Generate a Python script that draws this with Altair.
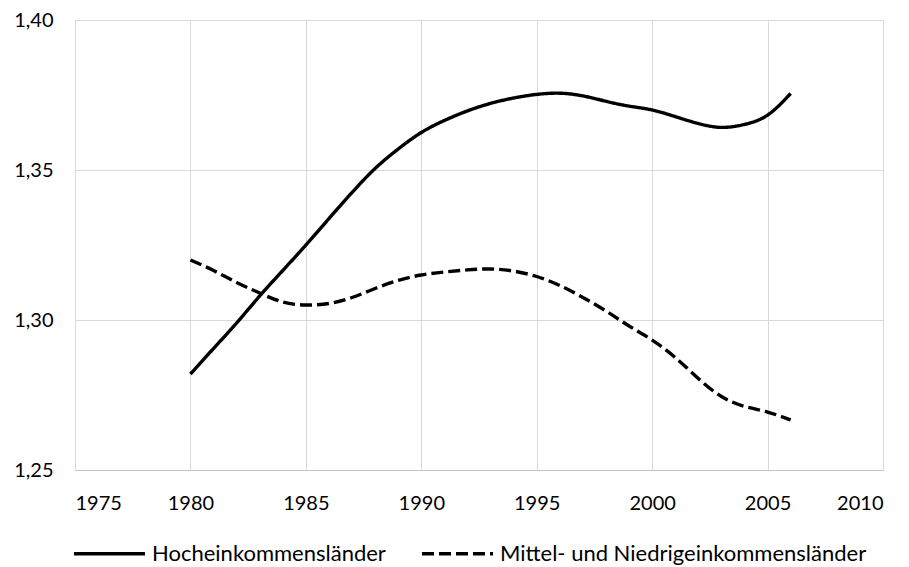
import altair as alt
import pandas as pd

years = list(range(1980, 2007))
hoch = [1.282, 1.2905, 1.299, 1.308, 1.3165, 1.325, 1.3338, 1.3425, 1.3505, 1.357,
        1.3625, 1.3665, 1.3697, 1.3722, 1.374, 1.3752, 1.3756, 1.3747, 1.3729, 1.3713,
        1.370, 1.3678, 1.3655, 1.3642, 1.3652, 1.3683, 1.3755]
mittel = [1.320, 1.3165, 1.3125, 1.309, 1.306, 1.305, 1.3055, 1.3075, 1.3105, 1.3132,
          1.315, 1.316, 1.3167, 1.317, 1.3163, 1.3145, 1.3115, 1.3075, 1.303, 1.298,
          1.2933, 1.2875, 1.2805, 1.2745, 1.2712, 1.2693, 1.2667]
series = ["Hocheinkommensländer", "Mittel- und Niedrigeinkommensländer"]

df = pd.DataFrame({
    "Jahr": years * 2,
    "Wert": hoch + mittel,
    "Gruppe": [series[0]] * len(years) + [series[1]] * len(years),
})

FONT = "Lato"

chart = alt.Chart(df).mark_line(color="black", strokeWidth=3.4, interpolate="natural").encode(
    x=alt.X("Jahr:Q", scale=alt.Scale(domain=[1975, 2010], nice=False),
            axis=alt.Axis(values=list(range(1975, 2011, 5)), format="d", title=None,
                          grid=True, gridColor="#d9d9d9", domainColor="#c4c4c4", ticks=False,
                          labelFont=FONT, labelFontSize=20, labelColor="black", labelPadding=23)),
    y=alt.Y("Wert:Q", scale=alt.Scale(domain=[1.25, 1.40], nice=False, zero=False),
            axis=alt.Axis(values=[1.25, 1.30, 1.35, 1.40], title=None,
                          labelExpr="replace(format(datum.value, '.2f'), '.', ',')",
                          grid=True, gridColor="#d9d9d9", domain=False, ticks=False,
                          labelFont=FONT, labelFontSize=20, labelColor="black", labelPadding=22)),
    strokeDash=alt.StrokeDash("Gruppe:N",
        scale=alt.Scale(domain=series, range=[[1, 0], [12, 5]]),
        legend=alt.Legend(title=None, orient="none", direction="horizontal",
                          legendX=-3, legendY=496, symbolType="stroke", symbolSize=5041,
                          symbolStrokeWidth=3.4, symbolStrokeColor="black", labelOffset=5,
                          columnPadding=29, labelLimit=0, labelFont=FONT, labelFontSize=22,
                          labelColor="black")),
).properties(
    width=808, height=450,
    autosize=alt.AutoSizeParams(type="none"),
    padding={"left": 67, "top": 12, "right": 18, "bottom": 110},
).configure_view(stroke=None)

chart.save("out.html", embed_options={"renderer": "svg", "actions": False})
